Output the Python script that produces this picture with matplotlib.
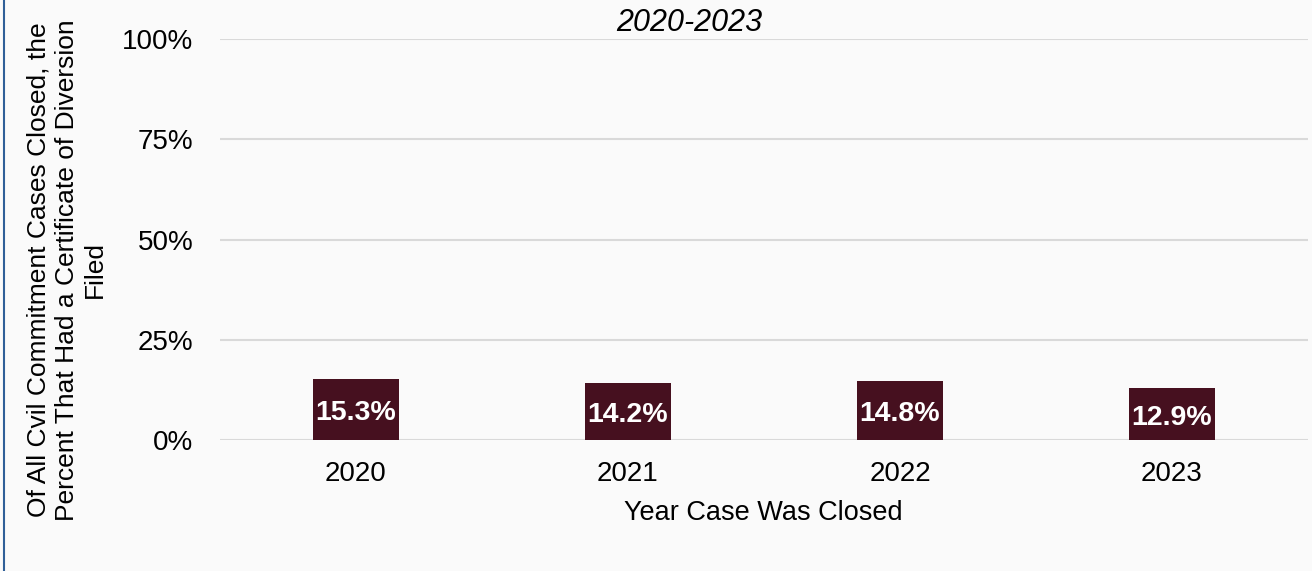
import matplotlib.pyplot as plt
from matplotlib.lines import Line2D

years = ["2020", "2021", "2022", "2023"]
pct = [15.3, 14.2, 14.8, 12.9]
yticks = [0, 25, 50, 75, 100]

plt.rcParams['font.family'] = ['Liberation Sans', 'DejaVu Sans']

fig = plt.figure(figsize=(13.12, 5.71), dpi=100, facecolor='#fafafa')
ax = fig.add_axes([220 / 1312, 1 - 440 / 571, 1088 / 1312, 401 / 571])
ax.set_facecolor('#fafafa')

pos = [i + 0.5 for i in range(len(years))]
bars = ax.bar(pos, pct, width=0.313, color='#46101f', zorder=3)
for b, v in zip(bars, pct):
    ax.text(b.get_x() + b.get_width() / 2, v / 2 - 0.9, f"{v:.1f}%", ha='center', va='center',
            color='white', fontsize=20.5, fontweight='bold', zorder=4)

ax.set_xlim(0, 4)
ax.set_ylim(0, 100)
ax.set_xticks(pos)
ax.set_xticklabels(years, fontsize=20)
ax.set_yticks(yticks)
ax.set_yticklabels([f"{t}%" for t in yticks], fontsize=20)
ax.tick_params(length=0)
ax.tick_params(axis='y', pad=19)
ax.tick_params(axis='x', pad=15)
ax.grid(axis='y', color='#d9d9d9', linewidth=1.5, zorder=0)
for s in ax.spines.values():
    s.set_visible(False)

fig.text(689 / 1312, 1 - 23 / 571, "2020-2023", ha='center', va='center',
         fontsize=22, style='italic')
fig.text(763 / 1312, 1 - 513 / 571, "Year Case Was Closed", ha='center', va='center',
         fontsize=19.5)
fig.text(67 / 1312, 1 - 270 / 571,
         "Of All Cvil Commitment Cases Closed, the\nPercent That Had a Certificate of Diversion\nFiled",
         ha='center', va='center', rotation=90, fontsize=19, linespacing=1.22)

fig.add_artist(Line2D([4 / 1312, 4 / 1312], [0, 1], color='#2f5f98', linewidth=1.5))

fig.savefig("out.png", dpi=100, facecolor=fig.get_facecolor())
